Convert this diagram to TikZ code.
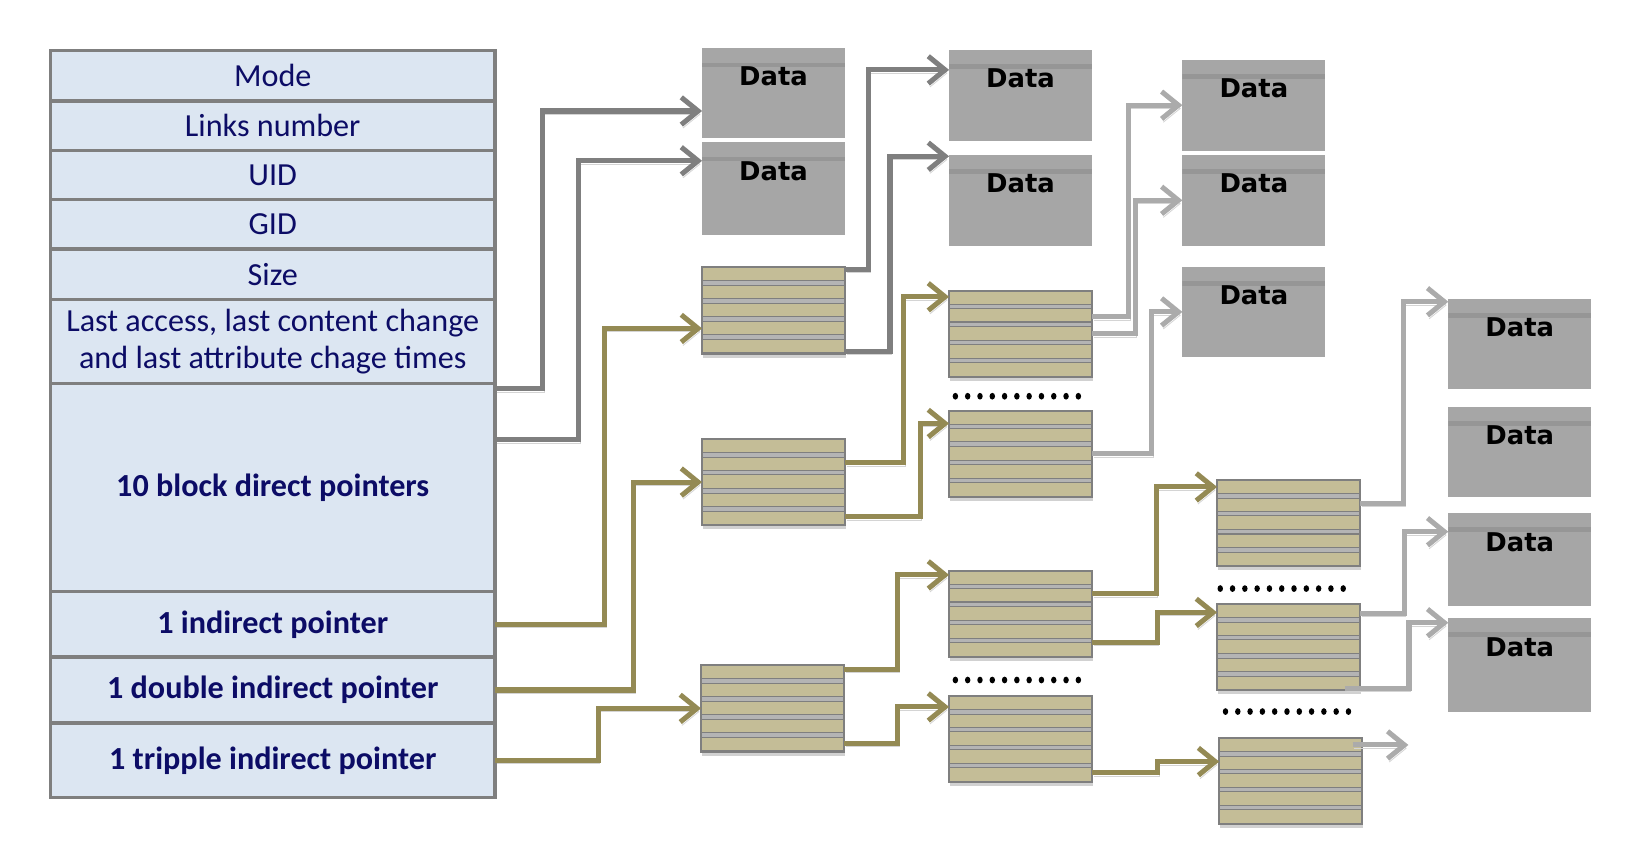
\documentclass[tikz,border=0pt]{standalone}
\usepackage{fontspec}
\setmainfont{Carlito}
\newfontfamily\datafont{DejaVu Sans}
\usetikzlibrary{calc,arrows.meta}
\definecolor{inodeblue}{HTML}{DCE6F2}
\definecolor{rimgray}{HTML}{7F7F7F}
\definecolor{textnavy}{HTML}{0C0C66}
\definecolor{datagray}{HTML}{A6A6A6}
\definecolor{bandgray}{HTML}{969696}
\definecolor{blocktan}{HTML}{C4BD97}
\definecolor{sepgray}{HTML}{B4B4B4}
\definecolor{ptrolive}{HTML}{948A54}
\definecolor{ptrlight}{HTML}{ABABAB}
\tikzset{
  field/.style={draw=rimgray, line width=1.6pt, fill=inodeblue, text=textnavy,
    anchor=north west, minimum width=211.5pt, inner sep=0pt, outer sep=0pt,
    align=center, font=\fontsize{15.3}{18}\selectfont},
  datablk/.style={fill=datagray, anchor=north west, minimum width=68pt,
    inner sep=0pt, outer sep=0pt, text height=9pt, text depth=16.5pt,
    font=\datafont\bfseries\fontsize{12.3}{14}\selectfont,
    path picture={
      \fill[bandgray] ([yshift=-6.8pt]path picture bounding box.north west)
        rectangle ([yshift=-9pt]path picture bounding box.north east);
    }
  },
  idxblk/.style={draw=rimgray, line width=1pt, fill=blocktan, anchor=north west,
    minimum width=68pt, minimum height=41pt, inner sep=0pt, outer sep=0pt,
    preaction={fill=black!18, transform canvas={xshift=0.3pt,yshift=-2pt}},
    path picture={
      \foreach \f in {0.185,0.39,0.6,0.81}
        \draw[rimgray, line width=0.5pt, fill=sepgray]
          ($(path picture bounding box.north west)!\f!(path picture bounding box.south west)+(0,1.1pt)$)
          rectangle
          ($(path picture bounding box.north east)!\f!(path picture bounding box.south east)-(0,1.1pt)$);
    }
  },
  ptr/.style={line width=2.4pt, -{Straight Barb[length=8pt,width=13pt]},
    preaction={draw=black!17, transform canvas={xshift=0.8pt,yshift=-1.6pt}}},
  darkptr/.style={ptr, draw=rimgray},
  lightptr/.style={ptr, draw=ptrlight},
  oliveptr/.style={ptr, draw=ptrolive}
}

\begin{document}
\begin{tikzpicture}[x=0.5pt,y=-0.5pt]
  \useasboundingbox (0,0) rectangle (1568,812);

  % inode fields
  \node[field, minimum height=24pt]   (mode)     at (48,48)  {Mode};
  \node[field, minimum height=23.5pt] (links)    at (48,96)  {Links number};
  \node[field, minimum height=23.5pt] (uid)      at (48,143) {UID};
  \node[field, minimum height=23.5pt] (gid)      at (48,190) {GID};
  \node[field, minimum height=24pt]   (size)     at (48,237) {Size};
  \node[field, minimum height=40pt]   (times)    at (48,285)
    {Last access, last content change\\ and last attribute chage times};
  \node[field, minimum height=99pt]   (direct)   at (48,365) {\bfseries 10 block direct pointers};
  \node[field, minimum height=31pt]   (indirect) at (48,563) {\bfseries 1 indirect pointer};
  \node[field, minimum height=31.5pt] (double)   at (48,625) {\bfseries 1 double indirect pointer};
  \node[field, minimum height=35.5pt] (triple)   at (48,688) {\bfseries 1 tripple indirect pointer};

  % data blocks
  \node[datablk, minimum height=42.8pt] (A) at (668,46)    {Data};
  \node[datablk, minimum height=44.2pt] (B) at (668,135.4) {Data};
  \node[datablk, minimum height=43.1pt] (C) at (903,47.6)  {Data};
  \node[datablk, minimum height=43.1pt] (D) at (903,147.5) {Data};
  \node[datablk, minimum height=43.1pt] (E) at (1125,57)   {Data};
  \node[datablk, minimum height=43.1pt] (F) at (1125,147.5){Data};
  \node[datablk, minimum height=43.1pt] (G) at (1125,253.7){Data};
  \node[datablk, minimum height=42.8pt] (H) at (1378,284.5){Data};
  \node[datablk, minimum height=43pt]   (I) at (1378,387)  {Data};
  \node[datablk, minimum height=44.5pt] (J) at (1378,488)  {Data};
  \node[datablk, minimum height=44.5pt] (K) at (1378,588)  {Data};

  % index blocks
  \node[idxblk] (L1) at (668,254.3) {};
  \node[idxblk] (L2) at (668,417.7) {};
  \node[idxblk] (L3) at (667,633)   {};
  \node[idxblk] (M1) at (903,276.6) {};
  \node[idxblk] (M2) at (903,390.7) {};
  \node[idxblk] (M3) at (903,543)   {};
  \node[idxblk] (M4) at (903,662)   {};
  \node[idxblk] (N1) at (1158,456.7){};
  \node[idxblk] (N2) at (1158,574.7){};
  \node[idxblk] (N3) at (1160,702)  {};

  % dots
  \foreach \x/\y in {909/377, 909/647, 1161/560, 1166/677}
    \foreach \k in {0,...,10}
      \fill ({\x+11.7*\k},\y) ellipse (1.3pt and 1.6pt);

  % direct pointers
  \draw[darkptr] ([yshift=-2.5pt]direct.north east) -- ++(22.7pt,0) |- ([yshift=-8.4pt]A.west);
  \draw[darkptr] ([yshift=-26.8pt]direct.north east) -- ++(39.7pt,0) |- ([yshift=13.3pt]B.west);
  \draw[darkptr] ([yshift=-1pt]L1.north east) -- ++(11.1pt,0) |- ([yshift=12.1pt]C.west);
  \draw[darkptr] ([yshift=1pt]L1.south east) -- ++(21.4pt,0) |- ([yshift=-0.6pt]D.north west);

  % second and third level data
  \draw[lightptr] ([yshift=8.1pt]M1.east) -- ++(17.3pt,0) |- (E.west);
  \draw[lightptr] (M1.east) -- ++(20.5pt,0) |- (F.west);
  \draw[lightptr] (M2.east) -- ++(28.4pt,0) |- (G.west);
  \draw[lightptr] ([yshift=9.3pt]N1.east) -- ++(20.7pt,0) |- ([yshift=-1.3pt]H.north west);
  \draw[lightptr] ([yshift=16pt]N2.east) -- ++(21pt,0) |- ([yshift=13.3pt]J.west);
  \draw[lightptr] ([xshift=-7pt,yshift=0.8pt]N2.south east) -- ++(30.3pt,0) |- ([yshift=20pt]K.west);
  \coordinate (more) at (1340,708.8);
  \draw[lightptr] ([xshift=-4.5pt,yshift=-3.4pt]N3.north east) -- (more);

  % indirect pointers
  \draw[oliveptr] (indirect.east) -- ++(52.3pt,0) |- ([yshift=-8.6pt]L1.west);
  \draw[oliveptr] (double.east) -- ++(65.8pt,0) |- (L2.west);
  \draw[oliveptr] (triple.east) -- ++(49pt,0) |- (L3.west);
  \draw[oliveptr] ([yshift=9.2pt]L2.east) -- ++(27.7pt,0) |- ([yshift=17.6pt]M1.west);
  \draw[oliveptr] ([yshift=-16.5pt]L2.east) -- ++(35.7pt,0) |- ([yshift=14.4pt]M2.west);
  \draw[oliveptr] ([yshift=18.5pt]L3.east) -- ++(25.5pt,0) |- ([yshift=18.5pt]M3.west);
  \draw[oliveptr] ([yshift=-16.5pt]L3.east) -- ++(25.5pt,0) |- ([yshift=15.2pt]M4.west);
  \draw[oliveptr] ([yshift=9.5pt]M3.east) -- ++(30.5pt,0) |- ([yshift=17.2pt]N1.west);
  \draw[oliveptr] ([yshift=-13.5pt]M3.east) -- ++(31pt,0) |- ([yshift=16.5pt]N2.west);
  \draw[oliveptr] ([yshift=-16.2pt]M4.east) -- ++(31.2pt,0) |- ([yshift=9.2pt]N3.west);
\end{tikzpicture}
\end{document}
